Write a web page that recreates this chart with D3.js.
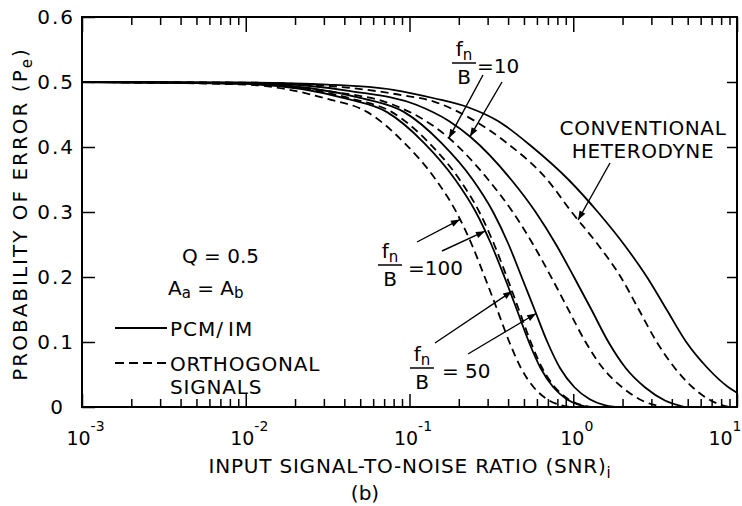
<!DOCTYPE html>
<html>
<head>
<meta charset="utf-8">
<script src="https://cdn.jsdelivr.net/npm/d3@7"></script>
<style>
    body { margin: 0; background: #fff; }
    svg { font-family: 'DejaVu Sans', sans-serif; }
    .frame { fill: none; stroke: #000; stroke-width: 2; }
    .curve { fill: none; stroke: #000; stroke-width: 1.8; }
    .curve.dashed { stroke-dasharray: 8 5; }
    .axis path { display: none; }
    .axis line { stroke: #000; stroke-width: 1.5; }
    .axis text { fill: #000; font-size: 20px; font-family: 'DejaVu Sans', sans-serif; }
    .note { fill: #000; font-size: 20px; }
    .arrow { stroke: #000; stroke-width: 1.4; fill: none; }
</style>
</head>
<body>
<div id="chart"></div>
<script>
'use strict';

// Axis ticks
const snrDecades = [1e-3, 1e-2, 1e-1, 1, 10];
const decadeExps = ['-3', '-2', '-1', '0', '1'];
const probTicks = [0, 0.1, 0.2, 0.3, 0.4, 0.5, 0.6];

// Curves, [SNR, Pe]
const orthFn100 = [[0.001, 0.5], [0.01, 0.496], [0.0316, 0.474], [0.055, 0.454], [0.0933, 0.406], [0.1445, 0.35],
    [0.193, 0.3], [0.24, 0.25], [0.288, 0.2], [0.343, 0.15], [0.407, 0.1], [0.479, 0.06], [0.575, 0.03],
    [0.692, 0.012], [0.832, 0.003], [0.955, 0]];
const pcmFn100 = [[0.001, 0.5], [0.01, 0.497], [0.0417, 0.474], [0.0725, 0.454], [0.123, 0.406], [0.19, 0.35],
    [0.254, 0.3], [0.316, 0.25], [0.38, 0.2], [0.452, 0.15], [0.536, 0.1], [0.631, 0.06], [0.758, 0.03],
    [0.912, 0.012], [1.097, 0.003], [1.259, 0]];
const orthFn50 = [[0.001, 0.5], [0.01, 0.497], [0.0447, 0.474], [0.0777, 0.454], [0.132, 0.406], [0.202, 0.35],
    [0.267, 0.3], [0.329, 0.25], [0.393, 0.2], [0.465, 0.15], [0.55, 0.1], [0.646, 0.06], [0.776, 0.03],
    [0.933, 0.012], [1.12, 0.003], [1.29, 0]];
const pcmFn50 = [[0.001, 0.5], [0.01, 0.498], [0.0531, 0.474], [0.0923, 0.454], [0.157, 0.406], [0.243, 0.35],
    [0.324, 0.3], [0.403, 0.25], [0.484, 0.2], [0.58, 0.15], [0.695, 0.1], [0.83, 0.06], [1.02, 0.03],
    [1.26, 0.012], [1.55, 0.003], [1.8, 0]];
const orthFn10 = [[0.001, 0.5], [0.01, 0.498], [0.0316, 0.486], [0.0794, 0.465], [0.126, 0.44], [0.172, 0.415],
    [0.302, 0.35], [0.427, 0.3], [0.569, 0.25], [0.733, 0.2], [0.933, 0.15], [1.189, 0.1], [1.514, 0.06],
    [1.995, 0.03], [2.63, 0.01], [3.55, 0]];
const pcmFn10 = [[0.001, 0.5], [0.01, 0.499], [0.0436, 0.486], [0.11, 0.465], [0.174, 0.44], [0.237, 0.415],
    [0.417, 0.35], [0.589, 0.3], [0.785, 0.25], [1.01, 0.2], [1.29, 0.15], [1.64, 0.1], [2.09, 0.06],
    [2.75, 0.03], [3.63, 0.01], [4.8, 0]];
const orthHet = [[0.001, 0.5], [0.01, 0.499], [0.0316, 0.494], [0.0794, 0.482], [0.148, 0.468], [0.251, 0.44],
    [0.394, 0.406], [0.692, 0.35], [0.977, 0.3], [1.413, 0.25], [1.95, 0.2], [2.512, 0.15], [3.236, 0.1],
    [4.169, 0.06], [5.37, 0.03], [6.918, 0.01], [8.913, 0]];
const pcmHet = [[0.001, 0.5], [0.01, 0.499], [0.0316, 0.496], [0.0794, 0.488], [0.141, 0.475], [0.234, 0.46],
    [0.347, 0.44], [0.562, 0.4], [0.933, 0.35], [1.413, 0.3], [2.042, 0.25], [2.818, 0.2], [3.715, 0.15],
    [4.898, 0.1], [6.607, 0.06], [8.913, 0.03], [10, 0.022]];

/* ````````````````````````````````
    Class: ErrorChart
 `````````````````````````````````*/
class ErrorChart {

    constructor(_parent) {
        this.parent = _parent;
        this.initVis();
    }

    /*
    initVis
    */
    initVis() {
        const vis = this;

        // Config svg
        vis.w = 742;
        vis.h = 506;
        vis.svg = d3.select(`#${vis.parent}`)
            .append('svg')
            .attr('width', vis.w)
            .attr('height', vis.h);
        vis.svg.append('rect')
            .attr('width', vis.w)
            .attr('height', vis.h)
            .attr('fill', '#fff');

        // Arrow marker
        vis.svg.append('defs').append('marker')
            .attr('id', 'head')
            .attr('markerUnits', 'userSpaceOnUse')
            .attr('viewBox', '-10 -5 10 10')
            .attr('refX', 0)
            .attr('refY', 0)
            .attr('markerWidth', 10)
            .attr('markerHeight', 10)
            .attr('orient', 'auto')
            .append('path')
            .attr('d', 'M0,0L-9,-3.3L-9,3.3Z')
            .attr('fill', '#000');

        // Config g (container)
        vis.gMargin = {top: 17, right: 5, bottom: 99, left: 82};
        vis.gW = vis.w - (vis.gMargin.left + vis.gMargin.right);
        vis.gH = vis.h - (vis.gMargin.top + vis.gMargin.bottom);
        vis.g = vis.svg.append('g')
            .attr('transform', `translate(${vis.gMargin.left},${vis.gMargin.top})`);

        // Scales
        vis.x = d3.scaleLog()
            .domain([1e-3, 10])
            .range([0, vis.gW]);
        vis.y = d3.scaleLinear()
            .domain([0, 0.6])
            .range([vis.gH, 0]);

        vis.line = d3.line()
            .x(d => vis.x(d[0]))
            .y(d => vis.y(d[1]))
            .curve(d3.curveMonotoneX);

        vis.series = [
            {values: orthFn100, dashed: true},
            {values: pcmFn100, dashed: false},
            {values: orthFn50, dashed: true},
            {values: pcmFn50, dashed: false},
            {values: orthFn10, dashed: true},
            {values: pcmFn10, dashed: false},
            {values: orthHet, dashed: true},
            {values: pcmHet, dashed: false}
        ];

        vis.updateVis();
    }

    /*
    valueAt: Pe on a curve at given SNR
    */
    valueAt(series, snr) {
        const lx = Math.log10(snr);
        for (let i = 1; i < series.length; i++) {
            const a = series[i - 1];
            const b = series[i];
            if (snr <= b[0]) {
                const t = (lx - Math.log10(a[0])) / (Math.log10(b[0]) - Math.log10(a[0]));
                return a[1] + t * (b[1] - a[1]);
            }
        }
        return series[series.length - 1][1];
    }

    /*
    updateVis
    */
    updateVis() {
        const vis = this;

        // Curves
        vis.g.selectAll('.curve')
            .data(vis.series)
            .join('path')
            .attr('class', d => d.dashed ? 'curve dashed' : 'curve')
            .attr('d', d => vis.line(d.values));

        // Minor ticks
        const minors = vis.x.ticks().filter(t => !snrDecades.some(dd => Math.abs(dd - t) < 1e-9));

        // Bottom axis (major)
        const xBottom = vis.g.append('g')
            .attr('class', 'axis')
            .attr('transform', `translate(0,${vis.gH})`)
            .call(d3.axisBottom(vis.x).tickValues(snrDecades).tickSizeInner(-13).tickSizeOuter(0));
        xBottom.selectAll('.tick text')
            .attr('y', 38)
            .attr('dy', 0)
            .attr('x', (d, i) => i === snrDecades.length - 1 ? 4 : 3)
            .attr('text-anchor', (d, i) => i === snrDecades.length - 1 ? 'end' : 'middle')
            .text('')
            .each(function (d, i) {
                const t = d3.select(this);
                t.append('tspan').attr('font-size', 19).text('10');
                t.append('tspan').attr('font-size', 14).attr('dy', -14).text(decadeExps[i]);
            });

        // Bottom axis (minor)
        vis.g.append('g')
            .attr('class', 'axis')
            .attr('transform', `translate(0,${vis.gH})`)
            .call(d3.axisBottom(vis.x).tickValues(minors).tickSizeInner(-8).tickSizeOuter(0).tickFormat(''));

        // Top axis
        vis.g.append('g')
            .attr('class', 'axis')
            .call(d3.axisTop(vis.x).tickValues(snrDecades).tickSizeInner(-15).tickSizeOuter(0).tickFormat(''));
        vis.g.append('g')
            .attr('class', 'axis')
            .call(d3.axisTop(vis.x).tickValues(minors).tickSizeInner(-8).tickSizeOuter(0).tickFormat(''));

        // Left axis
        const yLeft = vis.g.append('g')
            .attr('class', 'axis')
            .call(d3.axisLeft(vis.y).tickValues(probTicks).tickSizeInner(-13).tickSizeOuter(0)
                .tickPadding(7)
                .tickFormat(d => d === 0 ? '0' : d3.format('.1f')(d)));
        yLeft.selectAll('.tick text')
            .attr('letter-spacing', 2)
            .attr('dx', d => d === 0 ? -10 : 0);

        // Right axis
        vis.g.append('g')
            .attr('class', 'axis')
            .attr('transform', `translate(${vis.gW},0)`)
            .call(d3.axisRight(vis.y).tickValues(probTicks.slice(1, -1)).tickSizeInner(-10).tickSizeOuter(0).tickFormat(''));

        // Frame
        vis.g.append('rect')
            .attr('class', 'frame')
            .attr('width', vis.gW)
            .attr('height', vis.gH);

        // Axis titles
        const yTitle = vis.svg.append('text')
            .attr('class', 'note')
            .attr('transform', `translate(27,${vis.gMargin.top + vis.gH / 2 + 2}) rotate(-90)`)
            .attr('text-anchor', 'middle')
            .attr('letter-spacing', 2);
        yTitle.append('tspan').text('PROBABILITY OF ERROR (P');
        yTitle.append('tspan').attr('font-size', 15).attr('dy', 5).text('e');
        yTitle.append('tspan').attr('dy', -5).text(')');

        const xTitle = vis.svg.append('text')
            .attr('class', 'note')
            .attr('x', 410)
            .attr('y', 473)
            .attr('text-anchor', 'middle')
            .attr('letter-spacing', 0.8);
        xTitle.append('tspan').text('INPUT SIGNAL-TO-NOISE RATIO (SNR)');
        xTitle.append('tspan').attr('font-size', 15).attr('dy', 5).text('i');

        vis.svg.append('text')
            .attr('class', 'note')
            .attr('x', 365)
            .attr('y', 500)
            .attr('text-anchor', 'middle')
            .attr('font-size', 19)
            .text('(b)');

        // Parameter notes
        vis.g.append('text')
            .attr('class', 'note')
            .attr('x', 100)
            .attr('y', 246)
            .text('Q = 0.5');
        const aNote = vis.g.append('text')
            .attr('class', 'note')
            .attr('x', 86)
            .attr('y', 278);
        aNote.append('tspan').text('A');
        aNote.append('tspan').attr('font-size', 15).attr('dy', 3).text('a');
        aNote.append('tspan').attr('dy', -3).text(' = A');
        aNote.append('tspan').attr('font-size', 15).attr('dy', 3).text('b');

        // Legend
        vis.g.append('line')
            .attr('class', 'curve')
            .attr('x1', 33).attr('x2', 85)
            .attr('y1', 311).attr('y2', 311);
        const pcmText = vis.g.append('text')
            .attr('class', 'note')
            .attr('x', 88)
            .attr('y', 319)
            .attr('letter-spacing', 1);
        pcmText.append('tspan').text('PCM/');
        pcmText.append('tspan').attr('dx', 4).text('IM');
        vis.g.append('line')
            .attr('class', 'curve')
            .attr('stroke-dasharray', '9 5')
            .attr('x1', 33).attr('x2', 85)
            .attr('y1', 346).attr('y2', 346);
        ['ORTHOGONAL', 'SIGNALS'].forEach((s, i) => {
            vis.g.append('text')
                .attr('class', 'note')
                .attr('x', 88)
                .attr('y', 354 + i * 23)
                .attr('font-size', 19.5)
                .attr('letter-spacing', 0.8)
                .text(s);
        });

        // Conventional heterodyne label
        ['CONVENTIONAL', 'HETERODYNE'].forEach((s, i) => {
            vis.g.append('text')
                .attr('class', 'note')
                .attr('x', 561)
                .attr('y', 118 + i * 23)
                .attr('text-anchor', 'middle')
                .attr('font-size', 19.5)
                .attr('letter-spacing', 0.6)
                .text(s);
        });

        // fn/B labels
        const fracs = [
            {value: '=10', cx: 382, bar: 46, eqX: 395},
            {value: '=100', cx: 308, bar: 248, eqX: 326},
            {value: '= 50', cx: 340, bar: 351, eqX: 360}
        ];
        fracs.forEach(f => {
            const top = vis.g.append('text')
                .attr('class', 'note')
                .attr('x', f.cx)
                .attr('y', f.bar - 7)
                .attr('text-anchor', 'middle');
            top.append('tspan').text('f');
            top.append('tspan').attr('font-size', 15).attr('dy', 4).text('n');
            vis.g.append('line')
                .attr('stroke', '#000')
                .attr('stroke-width', 1.5)
                .attr('x1', f.cx - 12).attr('x2', f.cx + 12)
                .attr('y1', f.bar).attr('y2', f.bar);
            vis.g.append('text')
                .attr('class', 'note')
                .attr('x', f.cx)
                .attr('y', f.bar + 21)
                .attr('text-anchor', 'middle')
                .text('B');
            vis.g.append('text')
                .attr('class', 'note')
                .attr('x', f.eqX)
                .attr('y', f.bar + 10)
                .text(f.value);
        });

        // Arrows to curves
        const arrows = [
            {series: orthFn10, snr: 0.174, tail: [401, 58]},
            {series: pcmFn10, snr: 0.234, tail: [420, 65]},
            {series: orthFn100, snr: 0.203, tail: [335, 225]},
            {series: pcmFn100, snr: 0.289, tail: [360, 234]},
            {series: orthFn50, snr: 0.423, tail: [353, 326]},
            {series: pcmFn50, snr: 0.593, tail: [386, 337]},
            {series: orthHet, snr: 1.07, tail: [528, 146]}
        ];
        vis.g.selectAll('.arrow')
            .data(arrows)
            .join('line')
            .attr('class', 'arrow')
            .attr('marker-end', 'url(#head)')
            .attr('x1', d => d.tail[0])
            .attr('y1', d => d.tail[1])
            .attr('x2', d => vis.x(d.snr))
            .attr('y2', d => vis.y(vis.valueAt(d.series, d.snr)));
    }
}

new ErrorChart('chart');
</script>
</body>
</html>
